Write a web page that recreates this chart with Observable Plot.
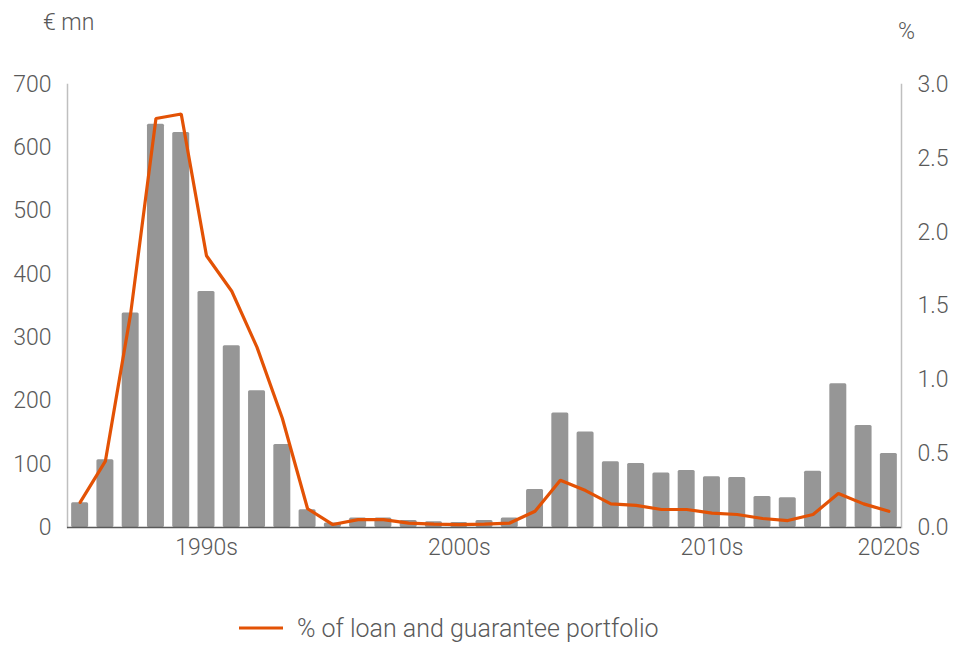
<!DOCTYPE html>
<html>
<head>
<meta charset="utf-8">
<script src="https://cdn.jsdelivr.net/npm/d3@7"></script>
<script src="https://cdn.jsdelivr.net/npm/@observablehq/plot@0.6"></script>
<style>
  body { margin: 0; background: #fff; }
  #chart { width: 953px; height: 646px; }
</style>
</head>
<body>
<div id="chart"></div>
<script>
// Categories (one bar per year)
const years = [1985, 1986, 1987, 1988, 1989, 1990, 1991, 1992, 1993, 1994, 1995,
  1996, 1997, 1998, 1999, 2000, 2001, 2002, 2003, 2004, 2005, 2006, 2007, 2008,
  2009, 2010, 2011, 2012, 2013, 2014, 2015, 2016, 2017];
// Bars, € mn (left axis)
const amounts = [39, 107, 339, 637, 624, 373, 287, 216, 131, 28, 7, 15, 15, 11, 9, 8,
  11, 15, 60, 181, 151, 104, 101, 86, 90, 80, 79, 49, 47, 89, 227, 161, 117];
// Line, % of loan and guarantee portfolio (right axis)
const shares = [0.17, 0.45, 1.45, 2.77, 2.80, 1.84, 1.60, 1.22, 0.74, 0.127, 0.02,
  0.053, 0.053, 0.03, 0.023, 0.02, 0.023, 0.03, 0.11, 0.32, 0.25, 0.16, 0.15, 0.122,
  0.122, 0.097, 0.088, 0.061, 0.047, 0.088, 0.23, 0.16, 0.11];
// Tick labels
const leftTicks = [0, 100, 200, 300, 400, 500, 600, 700];
const rightTicks = [0, 0.5, 1.0, 1.5, 2.0, 2.5, 3.0];
const xTicks = [1990, 2000, 2010, 2017];
const xTickLabels = ["1990s", "2000s", "2010s", "2020s"];
const leftTitle = "€ mn";
const rightTitle = "%";
const legendLabel = "% of loan and guarantee portfolio";

const data = years.map((year, i) => ({year, amount: amounts[i], share: shares[i]}));
const k = 700 / 3; // right axis (0–3 %) mapped onto left axis (0–700)
const orange = "#e35205";
const textColor = "#595959";

const plot = Plot.plot({
  width: 953,
  height: 646,
  marginLeft: 67,
  marginRight: 52,
  marginTop: 84,
  marginBottom: 119,
  style: {fontFamily: "Roboto, 'Open Sans', sans-serif", fontSize: "23px", fontWeight: 300, color: textColor, background: "#fff"},
  x: {type: "band", domain: years, padding: 0, round: false},
  y: {domain: [0, 700]},
  marks: [
    Plot.frame({anchor: "left", stroke: "#bfbfbf", strokeWidth: 1.5}),
    Plot.frame({anchor: "right", stroke: "#bfbfbf", strokeWidth: 1.5}),
    Plot.barY(data, {x: "year", y: "amount", fill: "#969696", rx: 1.5, insetLeft: 4.15, insetRight: 4.15}),
    Plot.ruleY([0], {stroke: "#595959", strokeWidth: 1.5}),
    Plot.line(data, {x: "year", y: d => d.share * k, stroke: orange, strokeWidth: 3.2, strokeLinejoin: "miter"}),
    Plot.axisY(leftTicks, {anchor: "left", tickSize: 0, tickPadding: 16, label: null}),
    Plot.axisY(rightTicks.map(v => v * k), {anchor: "right", tickSize: 0, tickPadding: 16, label: null,
      tickFormat: d => (d / k).toFixed(1)}),
    Plot.axisX(xTicks, {tickSize: 0, tickPadding: 11, label: null,
      tickFormat: d => xTickLabels[xTicks.indexOf(d)]})
  ]
});

const svg = d3.select(plot);
svg.append("text").attr("x", 43).attr("y", 30).attr("fill", textColor)
  .attr("text-anchor", "start").attr("font-size", 23).text(leftTitle);
svg.append("text").attr("x", 898).attr("y", 39).attr("fill", textColor)
  .attr("text-anchor", "start").attr("font-size", 23).text(rightTitle);
svg.append("line").attr("x1", 239).attr("x2", 283).attr("y1", 628).attr("y2", 628)
  .attr("stroke", orange).attr("stroke-width", 3);
svg.append("text").attr("x", 297).attr("y", 637).attr("fill", textColor)
  .attr("text-anchor", "start").attr("font-size", 25).text(legendLabel);

document.getElementById("chart").appendChild(plot);
</script>
</body>
</html>
